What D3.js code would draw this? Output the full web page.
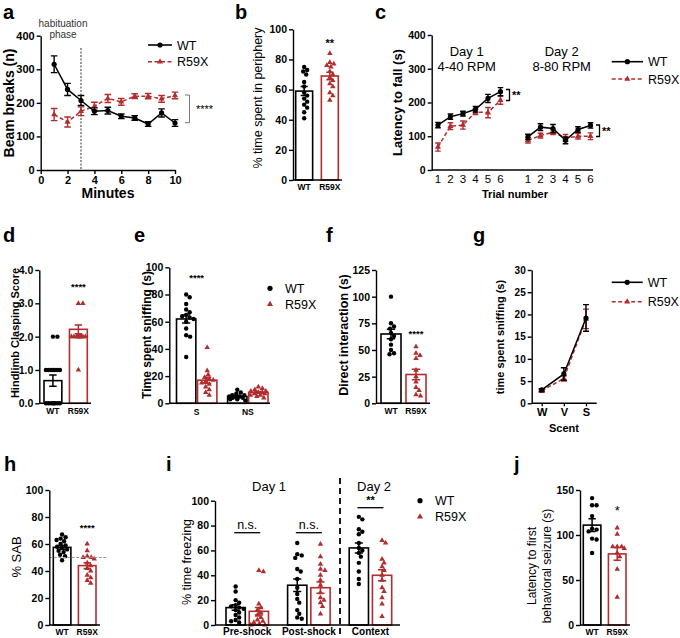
<!DOCTYPE html>
<html><head><meta charset="utf-8">
<script src="https://cdn.jsdelivr.net/npm/d3@7"></script>
<style>body{margin:0;background:#fff}svg{display:block}</style>
</head><body>
<svg id="c" width="680" height="638"></svg>
<script>
// ---------------- DATA ----------------
const genotypes = ["WT", "R59X"];
// a
const aMinutes = [1,2,3,4,5,6,7,8,9,10];
const aWT = [315,240,207,175,177,160,155,137,170,140];
const aWTsem = [25,18,15,10,10,7,7,7,12,10];
const aR59X = [165,143,175,190,213,203,220,220,212,222];
const aR59Xsem = [18,15,13,12,12,10,7,8,10,10];
const aYTicks = [0,100,200,300,400];
const aXTicks = [0,2,4,6,8,10];
// b
const bWTpts = [75,73,72,70,65,62,58,56,54,52,50,48,45,41];
const bR59Xpts = [84,78,77,76,75,72,70,68,66,64,62,58,56,53];
const bMean = [59,69];
const bSem = [3,2.5];
const bYTicks = [0,20,40,60,80,100];
// c
const cTrials = [1,2,3,4,5,6];
const cDay1WT = [133,158,167,180,212,232];
const cDay1WTsem = [8,8,7,8,12,12];
const cDay1R59X = [68,130,133,172,170,207];
const cDay1R59Xsem = [12,10,12,8,15,12];
const cDay2WT = [98,127,123,88,120,132];
const cDay2WTsem = [8,10,12,10,8,8];
const cDay2R59X = [88,102,112,95,100,100];
const cDay2R59Xsem = [8,7,7,10,8,10];
const cYTicks = [0,100,200,300,400];
// d
const dWTpts = [0,0,0,0,0,0,0,0,1,1,1,1,1,1,1,2,2];
const dR59Xpts = [3,3,2,2,2,2,2,2,2,2,2,2,1];
const dMean = [0.68,2.22];
const dSem = [0.17,0.13];
const dYTicks = [0,1,2,3,4];
// e
const eScents = ["S","NS"];
const eWT = [[80,78,73,69,67,65,64,63,62,60,55,50,49,34],[10,8,7,6,6,5,5,5,4,4,3,3,2]];
const eR59X = [[41,24,21,19,18,17,16,15,14,12,10,8,6],[12,11,10,9,9,8,8,7,7,6,6,5,4]];
const eMeanWT = [62,5], eSemWT = [3,0.8];
const eMeanR59X = [17,8], eSemR59X = [2.2,0.7];
const eYTicks = [0,20,40,60,80,100];
// f
const fWTpts = [100,75,72,70,66,63,60,55,50,47,46];
const fR59Xpts = [53,47,45,42,31,25,20,15,12,8,7];
const fMean = [65,27];
const fSem = [4.5,5];
const fYTicks = [0,25,50,75,100,125];
// g
const gScents = ["W","V","S"];
const gWT = [3.0,6.6,19.2], gWTsem = [0.3,1.4,3.0];
const gR59X = [2.8,5.6,19.0], gR59Xsem = [0.3,0.6,2.2];
const gYTicks = [0,5,10,15,20,25,30];
// h
const hWTpts = [67,65,64,63,62,60,59,58,57,56,55,54,52,51,48];
const hR59Xpts = [60,55,51,50,50,49,46,44,42,40,37,35,33,31];
const hMean = [57.5,44];
const hSem = [1.4,2.2];
const hChance = 50;
const hYTicks = [0,20,40,60,80,100];
// i
const iPhases = ["Pre-shock","Post-shock","Context"];
const iWT = [[31,27,20,18,16,15,14,13,12,10,8,6,4,3,2],
             [66,57,56,54,45,43,37,30,25,21,18,12,9,6,5],
             [87,85,77,75,73,66,62,60,58,55,50,43,37,33]];
const iR59X = [[44,43,17,14,12,10,8,6,4,3,2,1,0,0],
               [65,55,49,45,44,40,36,32,26,22,20,18,15,9],
               [68,66,53,50,47,44,40,36,30,27,22,17,7]];
const iMeanWT = [14,32,62], iSemWT = [2.2,5,4];
const iMeanR59X = [11,30,40], iSemR59X = [3,4.5,4.5];
const iSig = ["n.s.","n.s.","**"];
const iYTicks = [0,20,40,60,80,100];
// j
const jWTpts = [141,133,133,121,107,106,104,96,95,80];
const jR59Xpts = [108,101,87,87,87,85,80,76,62,31];
const jMean = [111,79];
const jSem = [7,7];
const jYTicks = [0,50,100,150];

// ---------------- HELPERS ----------------
const svg = d3.select("#c");
const FF = "'Liberation Sans', Arial, Helvetica, sans-serif";
const RED = "#b22d2e";
const BLK = "#000";
const TICK_FS = 10.5;

function txt(g, x, y, s, o = {}) {
  const t = g.append("text").attr("x", x).attr("y", y).text(s)
    .attr("font-family", FF).attr("font-size", o.fs || 11)
    .attr("font-weight", o.fw || "normal").attr("fill", o.fill || "#000")
    .attr("text-anchor", o.anchor || "middle");
  if (o.rot) t.attr("transform", `rotate(${o.rot},${x},${y})`);
  if (o.db) t.attr("dominant-baseline", o.db);
  return t;
}
function yAxis(g, y, x0, ticks, fs) {
  const ax = g.append("g").attr("transform", `translate(${x0},0)`)
    .call(d3.axisLeft(y).tickValues(ticks).tickSize(4).tickSizeOuter(0).tickPadding(2));
  ax.selectAll("text").attr("font-family", FF).attr("font-size", fs || TICK_FS).attr("font-weight", "bold").attr("fill", "#000");
  ax.selectAll("path,line").attr("stroke", "#000").attr("stroke-width", 1.4);
  return ax;
}
function hLine(g, x0, x1, y) {
  g.append("line").attr("x1", x0).attr("x2", x1).attr("y1", y).attr("y2", y)
    .attr("stroke", "#000").attr("stroke-width", 1.4);
}
function marker(g, x, y, grp, big) {
  if (grp === "WT") g.append("circle").attr("cx", x).attr("cy", y).attr("r", big ? 2.6 : 2.2).attr("fill", BLK);
  else g.append("path").attr("d", d3.symbol(d3.symbolTriangle, big ? 16 : 13)())
    .attr("transform", `translate(${x},${y})`).attr("fill", RED);
}
function swarm(vals, y, cx, half, r) {
  const placed = [];
  return vals.map(v => {
    const py = y(v);
    let best = null, bestD = -1;
    const n = Math.floor(half / 0.5) * 2;
    for (let k = 0; k <= n; k++) {
      const off = (k % 2 ? 1 : -1) * Math.ceil(k / 2) * 0.5;
      const px = cx + off;
      let md = Infinity;
      placed.forEach(p => { const d = Math.hypot(p[0] - px, p[1] - py); if (d < md) md = d; });
      if (md >= 2 * r) { best = [px, py]; break; }
      if (md > bestD) { bestD = md; best = [px, py]; }
    }
    placed.push(best);
    return best;
  });
}
function bar(g, y, x0, w, mean, sem, pts, grp) {
  const col = grp === "WT" ? BLK : RED;
  const cx = x0 + w / 2;
  g.append("rect").attr("x", x0).attr("y", y(mean)).attr("width", w).attr("height", y(0) - y(mean))
    .attr("fill", "#fff").attr("stroke", col).attr("stroke-width", 1.6);
  swarm(pts, y, cx, w / 2 - 1.5, 2.1).forEach(p => marker(g, p[0], p[1], grp));
  const cw = w * 0.42;
  g.append("path")
    .attr("d", `M${cx},${y(mean - sem)}V${y(mean + sem)}M${cx - cw / 2},${y(mean + sem)}h${cw}M${cx - cw / 2},${y(mean - sem)}h${cw}`)
    .attr("stroke", col).attr("stroke-width", 1.5).attr("fill", "none");
}
function series(g, x, y, xs, vals, sems, grp, cap) {
  const col = grp === "WT" ? BLK : RED;
  xs.forEach((xv, i) => {
    const cx = x(xv), c = cap || 3;
    g.append("path")
      .attr("d", `M${cx},${y(vals[i] - sems[i])}V${y(vals[i] + sems[i])}M${cx - c},${y(vals[i] + sems[i])}h${2 * c}M${cx - c},${y(vals[i] - sems[i])}h${2 * c}`)
      .attr("stroke", col).attr("stroke-width", 1.4).attr("fill", "none");
  });
  g.append("path").datum(xs.map((xv, i) => [x(xv), y(vals[i])]))
    .attr("d", d3.line()).attr("fill", "none").attr("stroke", col).attr("stroke-width", 1.5)
    .attr("stroke-dasharray", grp === "WT" ? null : "4,2.5");
  xs.forEach((xv, i) => marker(g, x(xv), y(vals[i]), grp, true));
}
function lineLegend(g, x0, x1, yy, grp, label, fs) {
  const col = grp === "WT" ? BLK : RED;
  g.append("line").attr("x1", x0).attr("x2", x1).attr("y1", yy).attr("y2", yy)
    .attr("stroke", col).attr("stroke-width", 1.6).attr("stroke-dasharray", grp === "WT" ? null : "4,2.5");
  marker(g, (x0 + x1) / 2, yy, grp, true);
  txt(g, x1 + 5, yy + 4.5, label, { anchor: "start", fs: fs || 12.5 });
}
function dotLegend(g, x, yy, grp, label) {
  marker(g, x, yy, grp, true);
  txt(g, x + 15, yy + 4.5, label, { anchor: "start", fs: 12.5 });
}
function letter(s, x, y) { txt(svg, x, y, s, { fs: 20, fw: "bold", anchor: "start" }); }

// ---------------- PANEL a ----------------
{
  const g = svg.append("g");
  const x = d3.scaleLinear([0, 10], [40.7, 175]);
  const y = d3.scaleLinear([0, 400], [170, 35.7]);
  letter("a", 3, 19);
  g.append("line").attr("x1", x(3)).attr("x2", x(3)).attr("y1", 48).attr("y2", 170)
    .attr("stroke", "#333").attr("stroke-width", 1).attr("stroke-dasharray", "2,1.5");
  txt(g, 63, 27, "habituation", { fs: 10, fill: "#333" });
  txt(g, 63, 38, "phase", { fs: 10, fill: "#333" });
  yAxis(g, y, 40.7, aYTicks, 11);
  const xa = g.append("g").attr("transform", "translate(0,170)")
    .call(d3.axisBottom(x).tickValues(aXTicks).tickSize(4).tickSizeOuter(0).tickPadding(2));
  xa.selectAll("text").attr("font-family", FF).attr("font-size", 11).attr("font-weight", "bold").attr("fill", "#000");
  xa.selectAll("path,line").attr("stroke", "#000").attr("stroke-width", 1.4);
  series(g, x, y, aMinutes, aR59X, aR59Xsem, "R59X", 3.3);
  series(g, x, y, aMinutes, aWT, aWTsem, "WT", 3.3);
  lineLegend(g, 148, 172, 45, "WT", "WT");
  lineLegend(g, 148, 172, 61.7, "R59X", "R59X");
  g.append("path").attr("d", "M185,95H189.5V122.7H185").attr("fill", "none").attr("stroke", "#777").attr("stroke-width", 1);
  txt(g, 196, 113, "****", { anchor: "start", fs: 11 });
  txt(g, 9, 103, "Beam breaks (n)", { fs: 14, fw: "bold", rot: -90, db: "central" });
  txt(g, 108, 198, "Minutes", { fs: 14, fw: "bold" });
}
// ---------------- PANEL b ----------------
{
  const g = svg.append("g");
  const y = d3.scaleLinear([0, 100], [180, 29.3]);
  const x = d3.scaleBand(genotypes, [295.7, 338.3]).paddingInner(0.34);
  letter("b", 235, 19);
  bar(g, y, x("WT"), x.bandwidth(), bMean[0], bSem[0], bWTpts, "WT");
  bar(g, y, x("R59X"), x.bandwidth(), bMean[1], bSem[1], bR59Xpts, "R59X");
  yAxis(g, y, 293, bYTicks);
  hLine(g, 293, 342, 180);
  genotypes.forEach(k => txt(g, x(k) + x.bandwidth() / 2, 190, k, { fs: 8.5, fw: "bold" }));
  txt(g, x("R59X") + x.bandwidth() / 2, 47, "**", { fs: 11, fw: "bold" });
  txt(g, 258, 98, "% time spent in periphery", { fs: 12.5, rot: -90, db: "central" });
}
// ---------------- PANEL c ----------------
{
  const g = svg.append("g");
  const x = d3.scaleLinear([0.5, 13.4], [431.7, 593]);
  const y = d3.scaleLinear([0, 400], [170, 35]);
  const day2Shift = 7.2;
  const d2 = cTrials.map(t => t + day2Shift);
  letter("c", 375, 19);
  yAxis(g, y, 431.7, cYTicks);
  hLine(g, 431.7, 593, 170);
  cTrials.forEach(t => { txt(g, x(t), 183, String(t), { fs: 11.5 }); txt(g, x(t + day2Shift), 183, String(t), { fs: 11.5 }); });
  series(g, x, y, cTrials, cDay1R59X, cDay1R59Xsem, "R59X", 2.8);
  series(g, x, y, cTrials, cDay1WT, cDay1WTsem, "WT", 2.8);
  series(g, x, y, d2, cDay2R59X, cDay2R59Xsem, "R59X", 2.8);
  series(g, x, y, d2, cDay2WT, cDay2WTsem, "WT", 2.8);
  txt(g, 466.7, 56, "Day 1", { fs: 13 });
  txt(g, 466.7, 70.5, "4-40 RPM", { fs: 13 });
  txt(g, 561.7, 56, "Day 2", { fs: 13 });
  txt(g, 561.7, 70.5, "8-80 RPM", { fs: 13 });
  lineLegend(g, 611.7, 643, 61.7, "WT", "WT");
  lineLegend(g, 611.7, 643, 79, "R59X", "R59X");
  g.append("path").attr("d", "M506,89.5H509.5V100.5H506").attr("fill", "none").attr("stroke", "#000").attr("stroke-width", 1.3);
  txt(g, 512, 99, "**", { anchor: "start", fs: 11, fw: "bold" });
  g.append("path").attr("d", "M596,125H599.5V136.5H596").attr("fill", "none").attr("stroke", "#000").attr("stroke-width", 1.3);
  txt(g, 602, 135, "**", { anchor: "start", fs: 11, fw: "bold" });
  txt(g, 397, 102.5, "Latency to fall (s)", { fs: 13, fw: "bold", rot: -90, db: "central" });
  txt(g, 515, 198, "Trial number", { fs: 11, fw: "bold" });
}
// ---------------- PANEL d ----------------
{
  const g = svg.append("g");
  const y = d3.scaleLinear([0, 4], [403.3, 270]);
  const x = d3.scaleBand(genotypes, [44, 87.3]).paddingInner(0.3);
  letter("d", 3, 242);
  bar(g, y, x("WT"), x.bandwidth(), dMean[0], dSem[0], dWTpts, "WT");
  bar(g, y, x("R59X"), x.bandwidth(), dMean[1], dSem[1], dR59Xpts, "R59X");
  yAxis(g, y, 39.3, dYTicks);
  hLine(g, 39.3, 91, 403.3);
  genotypes.forEach(k => txt(g, x(k) + x.bandwidth() / 2, 414, k, { fs: 8.5, fw: "bold" }));
  txt(g, x("R59X") + x.bandwidth() / 2, 290, "****", { fs: 9.5, fw: "bold" });
  txt(g, 15, 333, "Hindlimb Clasping Score", { fs: 11, fw: "bold", rot: -90, db: "central" });
}
// ---------------- PANEL e ----------------
{
  const g = svg.append("g");
  const y = d3.scaleLinear([0, 100], [403.3, 267.3]);
  const xo = d3.scaleBand(eScents, [176.5, 268]).paddingInner(0.21);
  const xi = d3.scaleBand(genotypes, [0, xo.bandwidth()]).paddingInner(0.08);
  letter("e", 134, 242);
  eScents.forEach((s, k) => {
    bar(g, y, xo(s) + xi("WT"), xi.bandwidth(), eMeanWT[k], eSemWT[k], eWT[k], "WT");
    bar(g, y, xo(s) + xi("R59X"), xi.bandwidth(), eMeanR59X[k], eSemR59X[k], eR59X[k], "R59X");
    txt(g, xo(s) + xo.bandwidth() / 2, 415, s, { fs: 8.5, fw: "bold" });
  });
  yAxis(g, y, 169.3, eYTicks);
  hLine(g, 169.3, 270, 403.3);
  txt(g, xo("S") + xo.bandwidth() / 2, 281, "****", { fs: 9.5, fw: "bold" });
  dotLegend(g, 270, 288.3, "WT", "WT");
  dotLegend(g, 270, 304.3, "R59X", "R59X");
  txt(g, 147, 335, "Time spent sniffing (s)", { fs: 12, fw: "bold", rot: -90, db: "central" });
}
// ---------------- PANEL f ----------------
{
  const g = svg.append("g");
  const y = d3.scaleLinear([0, 125], [403.3, 270]);
  const x = d3.scaleBand(genotypes, [381, 426]).paddingInner(0.2);
  letter("f", 326, 242);
  bar(g, y, x("WT"), x.bandwidth(), fMean[0], fSem[0], fWTpts, "WT");
  bar(g, y, x("R59X"), x.bandwidth(), fMean[1], fSem[1], fR59Xpts, "R59X");
  yAxis(g, y, 376, fYTicks);
  hLine(g, 376, 430, 403.3);
  genotypes.forEach(k => txt(g, x(k) + x.bandwidth() / 2, 414, k, { fs: 8.5, fw: "bold" }));
  txt(g, x("R59X") + x.bandwidth() / 2, 337, "****", { fs: 9.5, fw: "bold" });
  txt(g, 344, 335, "Direct interaction (s)", { fs: 12.5, fw: "bold", rot: -90, db: "central" });
}
// ---------------- PANEL g ----------------
{
  const g = svg.append("g");
  const y = d3.scaleLinear([0, 30], [403.3, 270]);
  const x = d3.scalePoint(gScents, [541.7, 586]);
  letter("g", 473, 242);
  yAxis(g, y, 531.7, gYTicks, 10);
  hLine(g, 531.7, 596.7, 403.3);
  const xa = g.append("g").attr("transform", "translate(0,403.3)")
    .call(d3.axisBottom(x).tickSize(3).tickSizeOuter(0).tickPadding(2));
  xa.select(".domain").remove();
  xa.selectAll("text").attr("font-family", FF).attr("font-size", 11).attr("font-weight", "bold").attr("fill", "#000");
  xa.selectAll("line").attr("stroke", "#000").attr("stroke-width", 1.3);
  series(g, x, y, gScents, gR59X, gR59Xsem, "R59X", 3);
  series(g, x, y, gScents, gWT, gWTsem, "WT", 3);
  lineLegend(g, 611.7, 642.7, 282.3, "WT", "WT");
  lineLegend(g, 611.7, 642.7, 301.7, "R59X", "R59X");
  txt(g, 500, 337, "time spent sniffing (s)", { fs: 11, fw: "bold", rot: -90, db: "central" });
  txt(g, 564, 432, "Scent", { fs: 11, fw: "bold" });
}
// ---------------- PANEL h ----------------
{
  const g = svg.append("g");
  const y = d3.scaleLinear([0, 100], [625, 490]);
  const x = d3.scaleBand(genotypes, [53.3, 96]).paddingInner(0.3);
  letter("h", 4, 471);
  bar(g, y, x("WT"), x.bandwidth(), hMean[0], hSem[0], hWTpts, "WT");
  bar(g, y, x("R59X"), x.bandwidth(), hMean[1], hSem[1], hR59Xpts, "R59X");
  g.append("line").attr("x1", 49.3).attr("x2", 107).attr("y1", y(hChance)).attr("y2", y(hChance))
    .attr("stroke", "#999").attr("stroke-width", 1.2).attr("stroke-dasharray", "3,1.5");
  yAxis(g, y, 49.3, hYTicks);
  hLine(g, 49.3, 100, 625);
  genotypes.forEach(k => txt(g, x(k) + x.bandwidth() / 2, 635, k, { fs: 8.5, fw: "bold" }));
  txt(g, x("R59X") + x.bandwidth() / 2, 531, "****", { fs: 9.5, fw: "bold" });
  txt(g, 16, 557, "% SAB", { fs: 13, rot: -90, db: "central" });
}
// ---------------- PANEL i ----------------
{
  const g = svg.append("g");
  const y = d3.scaleLinear([0, 100], [625, 500.7]);
  const xo = d3.scaleBand(iPhases, [226, 391.7]).paddingInner(0.31);
  const xi = d3.scaleBand(genotypes, [0, xo.bandwidth()]).paddingInner(0.17);
  letter("i", 166, 471);
  iPhases.forEach((p, k) => {
    bar(g, y, xo(p) + xi("WT"), xi.bandwidth(), iMeanWT[k], iSemWT[k], iWT[k], "WT");
    bar(g, y, xo(p) + xi("R59X"), xi.bandwidth(), iMeanR59X[k], iSemR59X[k], iR59X[k], "R59X");
    txt(g, xo(p) + xo.bandwidth() / 2, 635, p, { fs: 10, fw: "bold" });
    const ly = k < 2 ? 532.7 : 507.7;
    const cx = xo(p) + xo.bandwidth() / 2;
    g.append("line").attr("x1", cx - 13).attr("x2", cx + 13).attr("y1", ly).attr("y2", ly).attr("stroke", "#000").attr("stroke-width", 1.3);
    txt(g, cx, ly - 4, iSig[k], { fs: k < 2 ? 12.5 : 11, fw: k < 2 ? "normal" : "bold" });
  });
  yAxis(g, y, 215, iYTicks);
  hLine(g, 215, 400, 625);
  g.append("line").attr("x1", 340).attr("x2", 340).attr("y1", 478).attr("y2", 638)
    .attr("stroke", "#000").attr("stroke-width", 1.8).attr("stroke-dasharray", "6,4");
  txt(g, 269, 491, "Day 1", { fs: 13 });
  txt(g, 374, 491, "Day 2", { fs: 13 });
  dotLegend(g, 420, 500.7, "WT", "WT");
  dotLegend(g, 420, 516.7, "R59X", "R59X");
  txt(g, 187, 562, "% time freezing", { fs: 12.5, rot: -90, db: "central" });
}
// ---------------- PANEL j ----------------
{
  const g = svg.append("g");
  const y = d3.scaleLinear([0, 150], [625, 490]);
  const x = d3.scaleBand(genotypes, [583.3, 626]).paddingInner(0.3);
  letter("j", 514, 471);
  bar(g, y, x("WT"), x.bandwidth(), jMean[0], jSem[0], jWTpts, "WT");
  bar(g, y, x("R59X"), x.bandwidth(), jMean[1], jSem[1], jR59Xpts, "R59X");
  yAxis(g, y, 580, jYTicks);
  hLine(g, 580, 630, 625);
  genotypes.forEach(k => txt(g, x(k) + x.bandwidth() / 2, 635, k, { fs: 8.5, fw: "bold" }));
  txt(g, x("R59X") + x.bandwidth() / 2, 515, "*", { fs: 13 });
  txt(g, 532, 566, "Latency to first", { fs: 12, rot: -90, db: "central" });
  txt(g, 547, 566, "behavioral seizure (s)", { fs: 12, rot: -90, db: "central" });
}
</script>
</body></html>
